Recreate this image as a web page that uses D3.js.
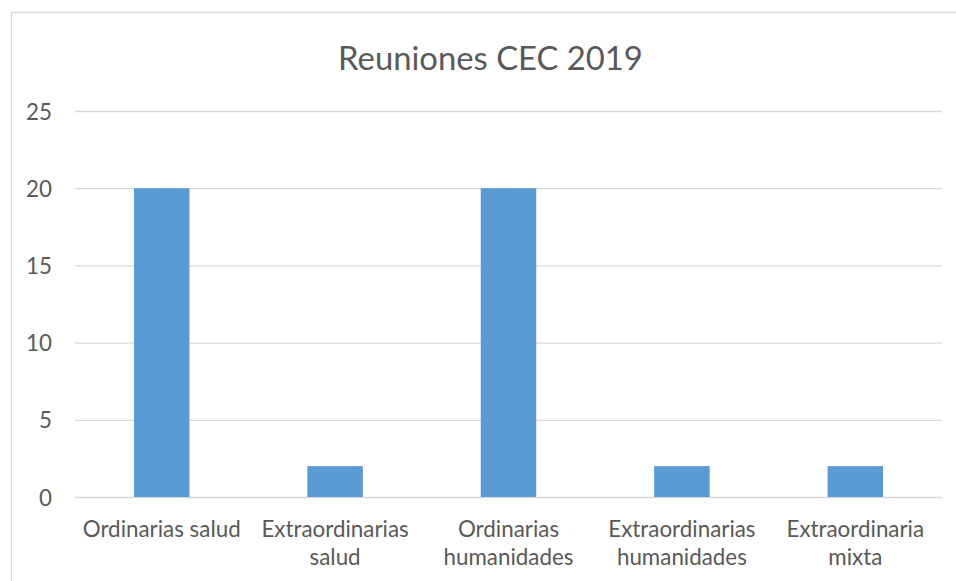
<!DOCTYPE html>
<html>
<head>
<meta charset="utf-8">
<script src="https://cdn.jsdelivr.net/npm/d3@7"></script>
<style>
  html, body { margin: 0; padding: 0; background: #fff; }
  svg { display: block; }
</style>
</head>
<body>
<svg id="chart" width="956" height="581"></svg>
<script>
const title = "Reuniones CEC 2019";
const categories = ["Ordinarias salud", "Extraordinarias salud", "Ordinarias humanidades", "Extraordinarias humanidades", "Extraordinaria mixta"];
const values = [20, 2, 20, 2, 2];
const yTicks = [0, 5, 10, 15, 20, 25];

const W = 956, H = 581;
const FONT = "Lato, 'Open Sans', sans-serif";
const TEXT = "#595959";
const GRID = "#D9D9D9";
const BAR = "#5B9BD5";

const svg = d3.select("#chart");

// chart border
svg.append("rect")
  .attr("x", 11.5).attr("y", 12.5)
  .attr("width", W + 20).attr("height", H + 20)
  .attr("fill", "#fff").attr("stroke", GRID).attr("stroke-width", 1.3);

const x = d3.scaleBand().domain(categories).range([75, 942]).paddingInner(0.68).paddingOuter(0.34);
const y = d3.scaleLinear().domain([0, 25]).range([497, 111]);

// font fitting helper
function fitSize(text, target) {
  const t = svg.append("text").attr("font-family", FONT).attr("font-size", 100).text(text);
  const len = t.node().getComputedTextLength();
  t.remove();
  return 100 * target / len;
}
const labelSize = fitSize("Ordinarias salud", 158);
const titleSize = fitSize(title, 305);

// gridlines + y labels via axis
const yAxis = d3.axisLeft(y).tickValues(yTicks).tickSize(-(942 - 75)).tickPadding(23);
const gy = svg.append("g").attr("transform", "translate(75,0)").call(yAxis);
gy.select(".domain").remove();
gy.selectAll(".tick line").attr("stroke", GRID).attr("stroke-width", 1.3);
gy.selectAll(".tick text")
  .attr("fill", TEXT).attr("font-family", FONT).attr("font-size", labelSize)
  .attr("dy", "0.36em");

// bars
svg.append("g").selectAll("rect").data(categories).join("rect")
  .attr("x", d => x(d))
  .attr("width", x.bandwidth())
  .attr("y", (d, i) => y(values[i]))
  .attr("height", (d, i) => y(0) - y(values[i]))
  .attr("fill", BAR);

// x labels via axis, wrapped
const xAxis = d3.axisBottom(x).tickSize(0).tickPadding(0);
const gx = svg.append("g").attr("transform", `translate(0,${y(0)})`).call(xAxis);
gx.select(".domain").remove();
gx.selectAll(".tick text")
  .attr("fill", TEXT).attr("font-family", FONT).attr("font-size", labelSize)
  .each(function(d) {
    const el = d3.select(this);
    el.text(null).attr("y", 0).attr("dy", null);
    const maxW = x.step() - 4;
    const words = d.split(" ");
    const lines = [];
    let cur = [];
    for (const w of words) {
      cur.push(w);
      el.text(cur.join(" "));
      if (el.node().getComputedTextLength() > maxW && cur.length > 1) {
        cur.pop();
        lines.push(cur.join(" "));
        cur = [w];
      }
    }
    lines.push(cur.join(" "));
    el.text(null);
    lines.forEach((ln, i) => {
      el.append("tspan").attr("x", 0).attr("y", 40 + i * 27.5).text(ln);
    });
  });

// title
svg.append("text")
  .attr("x", 490.5).attr("y", 70)
  .attr("text-anchor", "middle")
  .attr("fill", TEXT).attr("font-family", FONT).attr("font-size", titleSize)
  .text(title);
</script>
</body>
</html>
